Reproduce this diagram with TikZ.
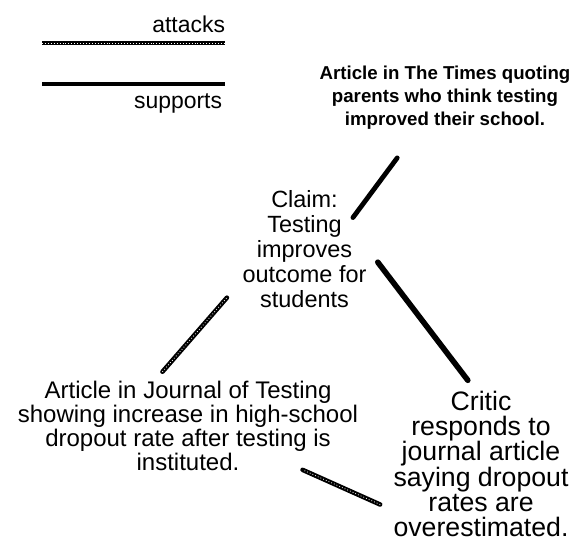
\documentclass[tikz,border=0pt]{standalone}
\usepackage{fontspec}
\setmainfont{Liberation Sans}
\usetikzlibrary{positioning, calc}

\begin{document}
\begin{tikzpicture}[x=0.75pt, y=-0.75pt,
      txt/.style={inner sep=0pt, outer sep=0pt, align=center, text=black},
      supports/.style={draw=black, line width=3.6pt, line cap=round},
      attacks/.style={draw=black, line width=3.4pt, line cap=round,
        postaction={draw=white, line width=0.6pt, line cap=butt, dash pattern=on 0.6pt off 1.6pt}}]
    \useasboundingbox (0,0) rectangle (577,547);
    % legend
    \node[txt, anchor=base east, font=\fontsize{17.2pt}{20pt}\selectfont] (lgattacks) at (225,32) {attacks};
    \node[txt, anchor=base east, font=\fontsize{17.2pt}{20pt}\selectfont] (lgsupports) at (222,108) {supports};
    \draw[attacks, line cap=butt] (42,43) -- (225,43);
    \draw[supports, line cap=butt] (42,84) -- (225,84);
    % argument nodes
    \node[txt, font=\fontsize{14pt}{17pt}\selectfont\bfseries] (times) at (445,97.6)
      {Article in The Times quoting\\parents who think testing\\improved their school.};
    \node[txt, font=\fontsize{17.6pt}{18.75pt}\selectfont] (claim) at (304.5,249.5)
      {Claim:\\Testing\\improves\\outcome for\\students};
    \node[txt, font=\fontsize{18pt}{18pt}\selectfont] (journal) at (188,426)
      {Article in Journal of Testing\\showing increase in high-school\\dropout rate after testing is\\instituted.};
    \node[txt, font=\fontsize{20pt}{19pt}\selectfont] (critic) at (481,464)
      {Critic\\responds to\\journal article\\saying dropout\\rates are\\overestimated.};
    % links
    \draw[supports, shorten <=27pt, shorten >=-17pt] (times.230) -- (claim.39);
    \draw[supports, line width=4.2pt, shorten <=14pt, shorten >=10pt] (claim.2) -- (critic.94);
    \draw[attacks, shorten <=9.4pt, shorten >=17.8pt] (journal.127) -- (claim.206);
    \draw[attacks, shorten <=11pt, shorten >=-1.8pt] (critic.208) -- (journal.-21);
  \end{tikzpicture}
\end{document}
